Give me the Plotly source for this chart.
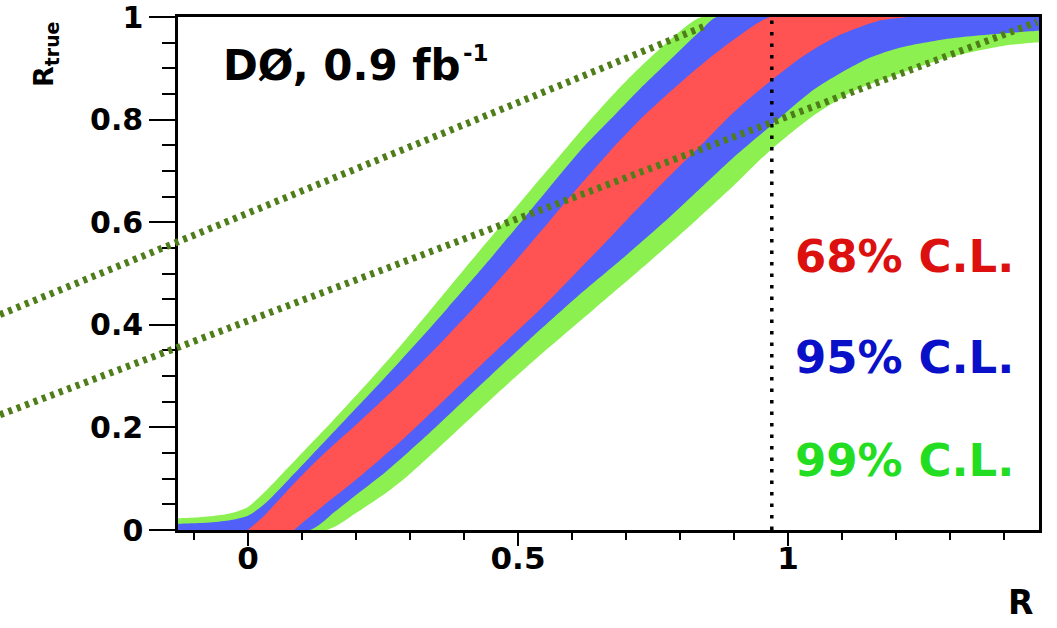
import plotly.graph_objects as go

# ---- axis settings -------------------------------------------------------
X_RANGE = [-0.1296, 1.4648]
Y_RANGE = [0.0, 1.0]

x_major_ticks = [0.0, 0.5, 1.0]
x_major_text = ["0", "0.5", "1"]
x_minor_ticks = [-0.1, 0.1, 0.2, 0.3, 0.4, 0.6, 0.7, 0.8, 0.9, 1.1, 1.2, 1.3, 1.4]

y_major_ticks = [0.0, 0.2, 0.4, 0.6, 0.8, 1.0]
y_major_text = ["0", "0.2", "0.4", "0.6", "0.8", "1"]
y_minor_ticks = [0.05, 0.1, 0.15, 0.25, 0.3, 0.35, 0.45, 0.5, 0.55,
                 0.65, 0.7, 0.75, 0.85, 0.9, 0.95]

# ---- confidence belts: R_true as a function of R -------------------------
# 99% C.L. band
cl99_upper_x = [-0.20, -0.13, -0.09, -0.05, -0.02, 0.00, 0.025, 0.053, 0.10, 0.157,
                0.226, 0.28, 0.331, 0.40, 0.48, 0.526, 0.58, 0.63, 0.68, 0.72,
                0.77, 0.815, 0.84, 1.50]
cl99_upper_y = [0.022, 0.023, 0.025, 0.029, 0.036, 0.045, 0.068, 0.098, 0.150, 0.213,
                0.292, 0.356, 0.420, 0.508, 0.608, 0.666, 0.733, 0.795, 0.853, 0.896,
                0.945, 0.985, 1.0, 1.0]
cl99_lower_x = [-0.20, 0.146, 0.20, 0.25, 0.294, 0.368, 0.45, 0.54, 0.64, 0.74,
                0.831, 0.90, 0.967, 1.05, 1.12, 1.207, 1.30, 1.40, 1.465, 1.50]
cl99_lower_y = [0.0, 0.0, 0.033, 0.068, 0.104, 0.175, 0.255, 0.34, 0.43, 0.52,
                0.605, 0.672, 0.74, 0.81, 0.855, 0.89, 0.922, 0.944, 0.951, 0.952]

# 95% C.L. band
cl95_upper_x = [-0.20, -0.13, -0.08, -0.04, 0.00, 0.03, 0.075, 0.12, 0.18, 0.25,
                0.31, 0.369, 0.44, 0.509, 0.56, 0.62, 0.68, 0.726, 0.79, 0.84,
                0.868, 1.50]
cl95_upper_y = [0.012, 0.012, 0.014, 0.018, 0.028, 0.05, 0.098, 0.148, 0.215, 0.293,
                0.362, 0.432, 0.518, 0.605, 0.67, 0.745, 0.81, 0.86, 0.925, 0.975,
                1.0, 1.0]
cl95_lower_x = [-0.20, 0.115, 0.16, 0.20, 0.257, 0.337, 0.43, 0.52, 0.61, 0.70,
                0.781, 0.837, 0.90, 0.967, 1.05, 1.146, 1.207, 1.30, 1.465, 1.50]
cl95_lower_y = [0.0, 0.0, 0.035, 0.068, 0.115, 0.19, 0.282, 0.37, 0.455, 0.535,
                0.61, 0.665, 0.727, 0.787, 0.86, 0.918, 0.94, 0.958, 0.973, 0.974]

# 68% C.L. band
cl68_upper_x = [0.00, 0.03, 0.06, 0.092, 0.14, 0.20, 0.294, 0.36, 0.426, 0.49,
                0.559, 0.609, 0.67, 0.726, 0.79, 0.843, 0.90, 0.967, 1.15]
cl68_upper_y = [0.0, 0.028, 0.062, 0.098, 0.148, 0.205, 0.298, 0.368, 0.442, 0.518,
                0.603, 0.665, 0.738, 0.80, 0.862, 0.91, 0.956, 1.0, 1.0]
cl68_lower_x = [0.085, 0.14, 0.20, 0.29, 0.38, 0.46, 0.546, 0.62, 0.702, 0.776,
                0.837, 0.90, 0.967, 1.03, 1.09, 1.17, 1.22]
cl68_lower_y = [0.0, 0.048, 0.098, 0.18, 0.27, 0.35, 0.435, 0.515, 0.605, 0.685,
                0.748, 0.815, 0.875, 0.925, 0.962, 0.993, 1.0]

# measured ratio
measured_R = 0.97

# straight guide lines (R, R_true) end points
guide_a_x = [-0.4593, 0.8463]
guide_a_y = [0.4199, 0.9824]
guide_b_x = [-0.4593, 1.4611]
guide_b_y = [0.2246, 0.9902]

GREEN = "#8cf050"
BLUE = "#5060f8"
RED = "#ff5252"
FONT = "DejaVu Sans"

fig = go.Figure()

for up_x, up_y, lo_x, lo_y, color in [
    (cl99_upper_x, cl99_upper_y, cl99_lower_x, cl99_lower_y, GREEN),
    (cl95_upper_x, cl95_upper_y, cl95_lower_x, cl95_lower_y, BLUE),
    (cl68_upper_x, cl68_upper_y, cl68_lower_x, cl68_lower_y, RED),
]:
    fig.add_trace(go.Scatter(
        x=list(up_x) + list(lo_x)[::-1],
        y=list(up_y) + list(lo_y)[::-1],
        mode="lines",
        fill="toself",
        fillcolor=color,
        line=dict(width=0, shape="spline", smoothing=0.7),
        hoverinfo="skip",
        showlegend=False,
    ))

# vertical dotted line at the measured value
fig.add_shape(type="line", xref="x", yref="y",
              x0=measured_R, x1=measured_R, y0=Y_RANGE[0], y1=Y_RANGE[1],
              line=dict(color="black", width=3.5, dash="3.5px,8px"), layer="above")


def to_paper_x(v):
    return (v - X_RANGE[0]) / (X_RANGE[1] - X_RANGE[0])


def to_paper_y(v):
    return (v - Y_RANGE[0]) / (Y_RANGE[1] - Y_RANGE[0])


# guide lines run past the left edge of the frame, so place them on the paper
for gx, gy in [(guide_a_x, guide_a_y), (guide_b_x, guide_b_y)]:
    fig.add_shape(type="line", xref="paper", yref="paper",
                  x0=to_paper_x(gx[0]), y0=to_paper_y(gy[0]),
                  x1=to_paper_x(gx[1]), y1=to_paper_y(gy[1]),
                  line=dict(color="#4e7d1a", width=7, dash="4px,5px"), layer="above")

bold = dict(family=FONT, weight="bold")

annotations = [
    dict(x=-0.048, y=0.905, xref="x", yref="y", text="DØ, 0.9 fb",
         xanchor="left", yanchor="middle", showarrow=False, borderpad=0,
         font=dict(size=42, color="black", **bold)),
    dict(x=0.397, y=0.929, xref="x", yref="y", text="-1",
         xanchor="left", yanchor="middle", showarrow=False, borderpad=0,
         font=dict(size=23, color="black", **bold)),
    dict(x=1.009, y=0.533, xref="x", yref="y", text="68% C.L.",
         xanchor="left", yanchor="middle", showarrow=False,
         font=dict(size=45, color="#dd1010", **bold)),
    dict(x=1.009, y=0.336, xref="x", yref="y", text="95% C.L.",
         xanchor="left", yanchor="middle", showarrow=False,
         font=dict(size=45, color="#0a10c8", **bold)),
    dict(x=1.009, y=0.135, xref="x", yref="y", text="99% C.L.",
         xanchor="left", yanchor="middle", showarrow=False,
         font=dict(size=45, color="#22dd22", **bold)),
    dict(x=-0.1533, y=0.926, xref="paper", yref="paper", text="R<sub>true</sub>",
         textangle=-90, xanchor="center", yanchor="middle", showarrow=False,
         font=dict(size=27, color="black", **bold)),
    dict(x=0.979, y=-0.142, xref="paper", yref="paper", text="R",
         xanchor="center", yanchor="middle", showarrow=False,
         font=dict(size=33, color="black", **bold)),
]

fig.update_layout(
    width=1057, height=628,
    margin=dict(l=178, r=18, t=17, b=98, autoexpand=False),
    paper_bgcolor="white", plot_bgcolor="white",
    showlegend=False,
    font=dict(family=FONT, color="black"),
    annotations=annotations,
    xaxis=dict(
        range=X_RANGE, showgrid=False, zeroline=False, automargin=False,
        showline=True, linecolor="black", linewidth=2.5, mirror=True,
        ticks="outside", ticklen=13, tickwidth=2, tickcolor="black",
        tickmode="array", tickvals=x_major_ticks, ticktext=x_major_text,
        tickfont=dict(size=31, color="black", **bold),
        ticklabelstandoff=-14,
        minor=dict(tickmode="array", tickvals=x_minor_ticks, ticks="outside",
                   ticklen=7, tickwidth=2, tickcolor="black", showgrid=False),
    ),
    yaxis=dict(
        range=Y_RANGE, showgrid=False, zeroline=False, automargin=False,
        showline=True, linecolor="black", linewidth=2.5, mirror=True,
        ticks="outside", ticklen=26, tickwidth=2, tickcolor="black",
        tickmode="array", tickvals=y_major_ticks, ticktext=y_major_text,
        tickfont=dict(size=30, color="black", **bold),
        ticklabeloverflow="allow",
        minor=dict(tickmode="array", tickvals=y_minor_ticks, ticks="outside",
                   ticklen=13, tickwidth=2, tickcolor="black", showgrid=False),
    ),
)

fig.write_html("out.html")
